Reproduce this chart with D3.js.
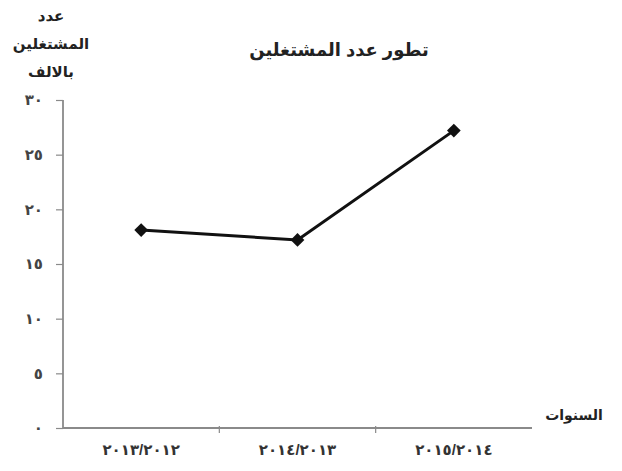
<!DOCTYPE html>
<html>
<head>
<meta charset="utf-8">
<script src="https://cdn.jsdelivr.net/npm/d3@7"></script>
<style>
  body { margin: 0; background: #fff; }
  text { font-family: Arial, "Liberation Sans", "DejaVu Sans", sans-serif; }
</style>
</head>
<body>
<div id="chart"></div>
<script>
// data
var years = ["٢٠١٣/٢٠١٢", "٢٠١٤/٢٠١٣", "٢٠١٥/٢٠١٤"];
var workers = [18.1, 17.2, 27.2];
var yTicks = [0, 5, 10, 15, 20, 25, 30];
var yTickLabels = ["٠", "٥", "١٠", "١٥", "٢٠", "٢٥", "٣٠"];

var title = "تطور عدد المشتغلين";
var yTitle = ["عدد", "المشتغلين", "بالالف"];
var xTitle = "السنوات";

var svg = d3.select("#chart").append("svg")
    .attr("width", 622)
    .attr("height", 471);

var x = d3.scaleBand()
    .domain(years)
    .range([63, 532]);

var y = d3.scaleLinear()
    .domain([0, 30])
    .range([428, 100]);

var axisColor = "#8a8a8a";

// y axis
var yAxis = svg.append("g")
    .attr("transform", "translate(63,0)")
    .call(d3.axisLeft(y)
        .tickValues(yTicks)
        .tickSize(7)
        .tickPadding(13)
        .tickFormat(function(d, i) { return yTickLabels[i]; }));
yAxis.select(".domain").attr("stroke", axisColor).attr("stroke-width", 1.8)
    .attr("d", "M0," + y(0) + "V" + y(30));
yAxis.selectAll(".tick line").attr("stroke", axisColor).attr("stroke-width", 1.2);
yAxis.selectAll(".tick text")
    .style("font-size", "15px")
    .style("font-weight", "bold")
    .style("letter-spacing", "3px")
    .attr("fill", "#444");

// x axis
var xAxis = svg.append("g")
    .attr("transform", "translate(0," + y(0) + ")")
    .call(d3.axisBottom(x).tickSize(0).tickPadding(16));
xAxis.select(".domain").attr("stroke", axisColor).attr("stroke-width", 1.8)
    .attr("d", "M63,0H532");
xAxis.selectAll(".tick text")
    .style("font-size", "15px")
    .style("font-weight", "bold")
    .style("letter-spacing", "2.5px")
    .attr("fill", "#333");

// separators between categories
xAxis.selectAll(".sep")
    .data(years.slice(1))
    .enter().append("line")
    .attr("class", "sep")
    .attr("x1", function(d) { return x(d); })
    .attr("x2", function(d) { return x(d); })
    .attr("y1", -2)
    .attr("y2", 5)
    .attr("stroke", axisColor)
    .attr("stroke-width", 1.2);

// line
var pts = years.map(function(d, i) { return [x(d) + x.bandwidth() / 2, y(workers[i])]; });

svg.append("path")
    .datum(pts)
    .attr("fill", "none")
    .attr("stroke", "#111")
    .attr("stroke-width", 3)
    .attr("d", d3.line());

svg.selectAll(".pt")
    .data(pts)
    .enter().append("path")
    .attr("class", "pt")
    .attr("transform", function(d) { return "translate(" + d[0] + "," + d[1] + ")"; })
    .attr("d", d3.symbol().type(d3.symbolDiamond2).size(120))
    .attr("fill", "#111");

// titles
svg.append("text")
    .attr("x", 339)
    .attr("y", 56)
    .attr("text-anchor", "middle")
    .style("font-size", "18px")
    .style("font-weight", "bold")
    .attr("fill", "#222")
    .text(title);

svg.selectAll(".ytitle")
    .data(yTitle)
    .enter().append("text")
    .attr("class", "ytitle")
    .attr("x", 51)
    .attr("y", function(d, i) { return 21 + i * 28; })
    .attr("text-anchor", "middle")
    .style("font-size", "15px")
    .style("font-weight", "bold")
    .attr("fill", "#222")
    .text(function(d) { return d; });

svg.append("text")
    .attr("x", 574)
    .attr("y", 420)
    .attr("text-anchor", "middle")
    .style("font-size", "14px")
    .style("font-weight", "bold")
    .attr("fill", "#222")
    .text(xTitle);
</script>
</body>
</html>
